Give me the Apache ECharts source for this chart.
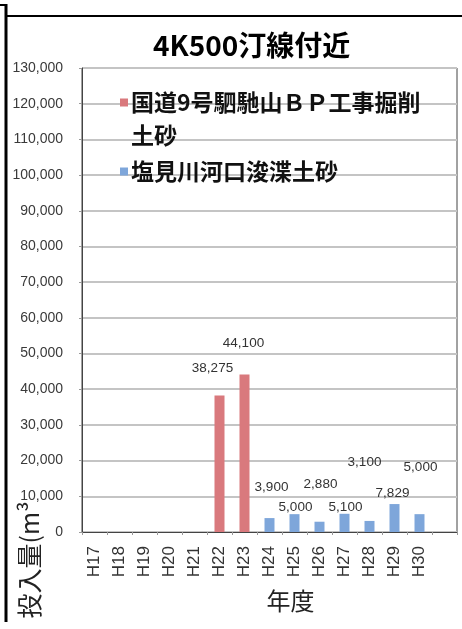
<!DOCTYPE html>
<html>
<head>
<meta charset="utf-8">
<script src="https://cdn.jsdelivr.net/npm/echarts@6/dist/echarts.min.js"></script>
<style>
  html, body { margin: 0; padding: 0; background: #fff; }
  #chart { width: 462px; height: 629px; }
</style>
</head>
<body>
<div id="chart"></div>
<script>
// Fiscal years (Heisei)
const years = ['H17', 'H18', 'H19', 'H20', 'H21', 'H22', 'H23', 'H24', 'H25', 'H26', 'H27', 'H28', 'H29', 'H30'];

// Sand placed near the 4K500 shoreline (m3)
const bypassSoil = [null, null, null, null, null, 38275, 44100, null, null, null, null, null, null, null];
const dredgedSoil = [null, null, null, null, null, null, null, 3900, 5000, 2880, 5100, 3100, 7829, 5000];

const seriesNames = ['国道9号駟馳山ＢＰ工事掘削土砂', '塩見川河口浚渫土砂'];
const titleText = '4K500汀線付近';
const yName = '投入量(m³';
const xName = '年度';

// label nudges (px) so that neighbouring value labels do not collide
const bypassNudge = { 5: [-7, -15], 6: [-1, -19] };
const dredgedNudge = { 7: [2, -19], 8: [1, 5], 9: [1, -25], 10: [1, 5], 11: [-5, -47], 12: [-2, 1], 13: [1, -35] };

const RED = '#d9797d';
const BLUE = '#7ea6da';

function withLabels(values, nudge) {
  return values.map((v, i) => {
    if (v == null) return null;
    return { value: v, label: { offset: nudge[i] || [0, 0] } };
  });
}

const chart = echarts.init(document.getElementById('chart'));

const labelStyle = {
  show: true,
  position: 'top',
  distance: 5,
  fontSize: 13.5,
  fontFamily: 'Liberation Sans, Arial, sans-serif',
  color: '#333',
  formatter: p => Number(p.value).toLocaleString('en-US')
};

chart.setOption({
  animation: false,
  backgroundColor: '#fff',
  title: {
    text: titleText,
    left: 148,
    top: 26,
    textStyle: { fontSize: 28, fontWeight: 'bold', color: '#000', fontFamily: 'Noto Sans CJK JP' }
  },
  legend: {
    orient: 'vertical',
    left: 115,
    top: 86,
    padding: 0,
    itemGap: 3,
    itemWidth: 0,
    itemHeight: 0,
    textGap: 0,
    data: seriesNames,
    formatter: name => {
      if (name === seriesNames[0]) {
        return '{ma|}{gap|}{t|国道9号駟馳山ＢＰ工事掘削}\n{sp|}{t|土砂}';
      }
      return '{mb|}{gap|}{t|' + name + '}';
    },
    textStyle: {
      fontSize: 23,
      lineHeight: 33,
      fontWeight: 'bold',
      color: '#111',
      fontFamily: 'Noto Sans CJK JP',
      rich: {
        ma: { width: 8, height: 8, backgroundColor: RED },
        mb: { width: 8, height: 8, backgroundColor: BLUE },
        gap: { width: 3 },
        sp: { width: 11 },
        t: { fontSize: 23, lineHeight: 33, fontWeight: 'bold', color: '#111', fontFamily: 'Noto Sans CJK JP' }
      }
    }
  },
  grid: {
    left: 82,
    right: 5,
    top: 68,
    bottom: 97,
    show: true,
    borderColor: '#444',
    borderWidth: 1,
    backgroundColor: 'transparent'
  },
  xAxis: {
    type: 'category',
    data: years.concat(['']),
    boundaryGap: true,
    name: xName,
    nameLocation: 'middle',
    nameGap: 57,
    nameTextStyle: { fontSize: 24, color: '#222', fontFamily: 'Noto Sans CJK JP', padding: [0, 0, 0, 42] },
    axisLine: { show: true, lineStyle: { color: '#444', width: 1 } },
    axisTick: { show: true, length: 3, lineStyle: { color: '#999' } },
    axisLabel: {
      rotate: 90,
      margin: 14,
      fontSize: 17,
      color: '#333',
      fontFamily: 'Liberation Sans, Arial, sans-serif',
      interval: 0
    }
  },
  yAxis: {
    type: 'value',
    min: 0,
    max: 130000,
    interval: 10000,
    axisLine: { show: true, lineStyle: { color: '#444', width: 1 } },
    axisTick: { show: true, length: 3, inside: false, lineStyle: { color: '#999' } },
    axisLabel: {
      margin: 19,
      fontSize: 14,
      color: '#3a3a3a',
      fontFamily: 'Liberation Sans, Arial, sans-serif',
      formatter: v => v.toLocaleString('en-US')
    },
    splitLine: { show: true, lineStyle: { color: '#c4c4c4', width: 2 } }
  },
  series: [
    {
      name: seriesNames[0],
      type: 'bar',
      barWidth: 10,
      barGap: '-100%',
      itemStyle: { color: RED },
      label: labelStyle,
      data: withLabels(bypassSoil, bypassNudge)
    },
    {
      name: seriesNames[1],
      type: 'bar',
      barWidth: 10,
      barGap: '-100%',
      itemStyle: { color: BLUE },
      label: labelStyle,
      data: withLabels(dredgedSoil, dredgedNudge)
    }
  ],
  graphic: [
    // outer frame
    { type: 'line', shape: { x1: 6, y1: 4, x2: 6, y2: 622 }, style: { stroke: '#000', lineWidth: 3 }, silent: true },
    { type: 'line', shape: { x1: 0, y1: 5, x2: 6, y2: 5 }, style: { stroke: '#000', lineWidth: 2 }, silent: true },
    { type: 'line', shape: { x1: 6, y1: 16, x2: 462, y2: 16 }, style: { stroke: '#000', lineWidth: 2 }, silent: true },
    // vertical axis title
    {
      type: 'text',
      x: 29,
      y: 560,
      rotation: Math.PI / 2,
      silent: true,
      style: {
        text: yName,
        fontSize: 25,
        fontFamily: 'Noto Sans CJK JP',
        fill: '#222',
        align: 'center',
        verticalAlign: 'middle'
      }
    }
  ]
});
</script>
</body>
</html>
